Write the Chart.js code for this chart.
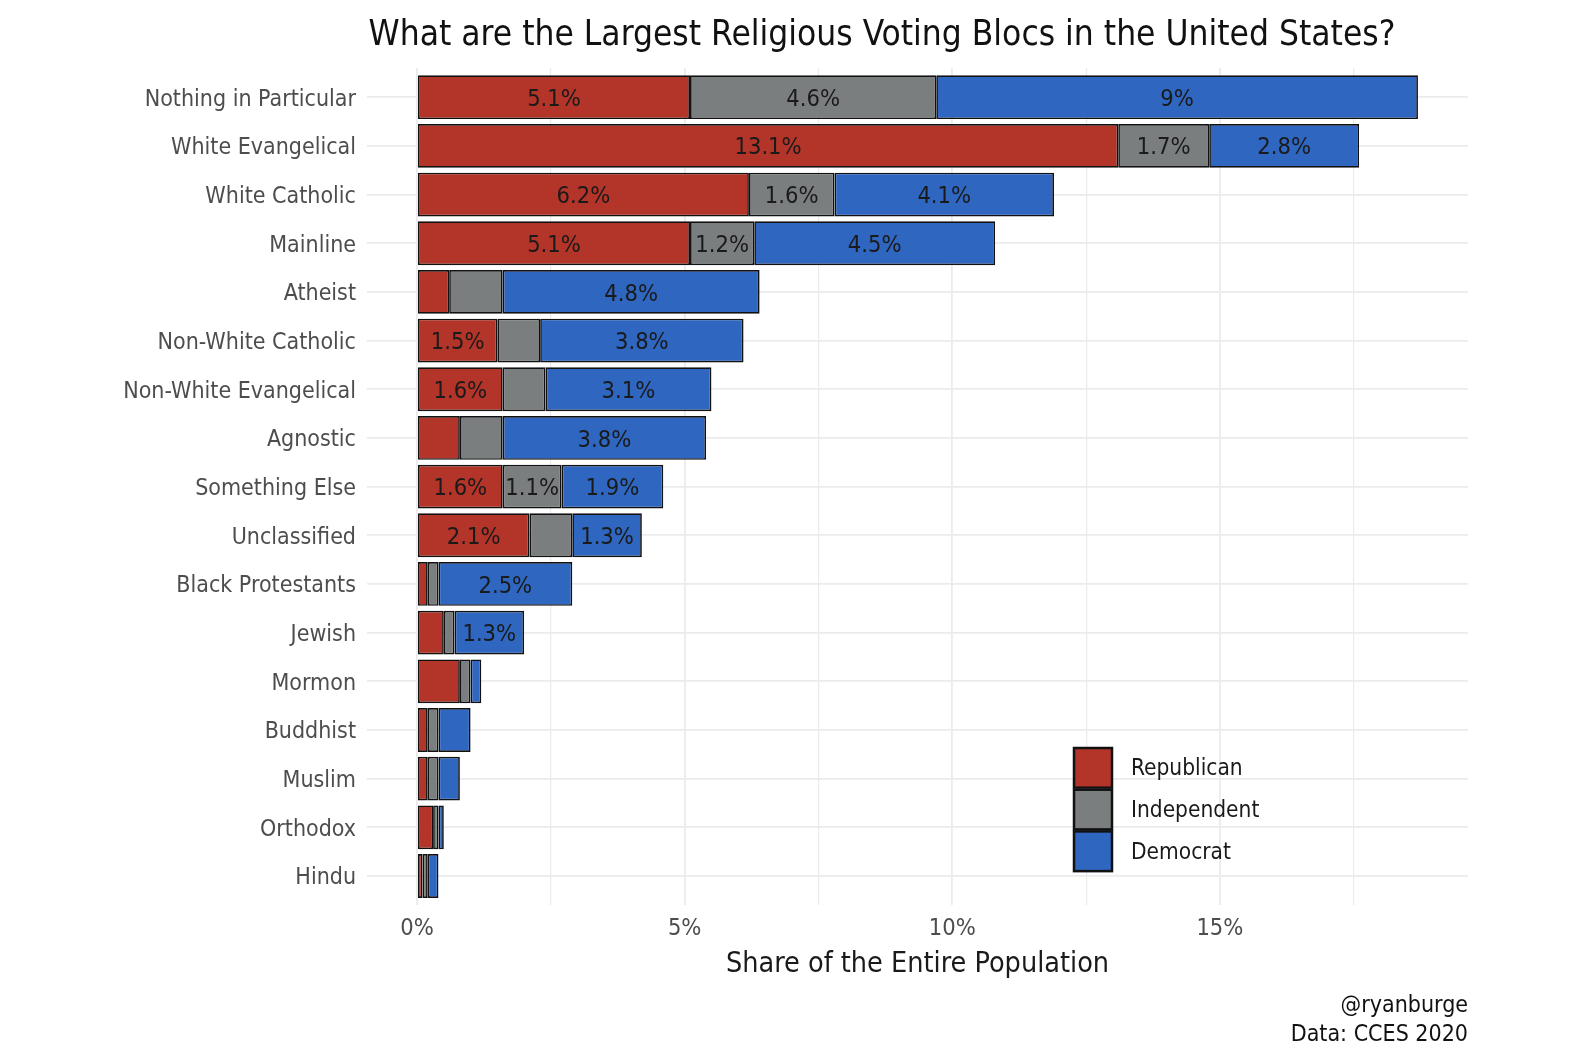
<!DOCTYPE html>
<html>
<head>
<meta charset="utf-8">
<script src="https://cdn.jsdelivr.net/npm/chart.js@4.4.1/dist/chart.umd.min.js"></script>
<style>
  body { margin: 0; background: #fff; }
  #wrap { width: 1588px; height: 1062px; }
</style>
</head>
<body>
<div id="wrap"><canvas id="myChart" width="1588" height="1062"></canvas></div>
<script>
// data (share of population, %)
const categories = ['Nothing in Particular', 'White Evangelical', 'White Catholic', 'Mainline', 'Atheist',
    'Non-White Catholic', 'Non-White Evangelical', 'Agnostic', 'Something Else', 'Unclassified',
    'Black Protestants', 'Jewish', 'Mormon', 'Buddhist', 'Muslim', 'Orthodox', 'Hindu'];
const republican = [5.1, 13.1, 6.2, 5.1, 0.6, 1.5, 1.6, 0.8, 1.6, 2.1, 0.2, 0.5, 0.8, 0.2, 0.2, 0.3, 0.1];
const independent = [4.6, 1.7, 1.6, 1.2, 1.0, 0.8, 0.8, 0.8, 1.1, 0.8, 0.2, 0.2, 0.2, 0.2, 0.2, 0.1, 0.1];
const democrat = [9.0, 2.8, 4.1, 4.5, 4.8, 3.8, 3.1, 3.8, 1.9, 1.3, 2.5, 1.3, 0.2, 0.6, 0.4, 0.1, 0.2];
const seriesNames = ['Republican', 'Independent', 'Democrat'];
const xTicks = [0, 5, 10, 15];

const TITLE = 'What are the Largest Religious Voting Blocs in the United States?';
const FONT = "'DejaVu Sans Condensed', 'Liberation Sans Narrow', 'Open Sans', sans-serif";
const colors = ['#b33429', '#7a7e7f', '#2f66c0'];

// ggplot style 5% expansion of the value axis
const totals = categories.map((c, i) => republican[i] + independent[i] + democrat[i]);
const maxTotal = Math.max(...totals);
const pad = maxTotal * 0.05;
const minorTicks = xTicks.map(t => t + 2.5);

const fmt = v => Number(v.toFixed(1)) + '%';

function makeSet(name, values, color) {
    return {
        label: name,
        data: values.map((v, i) => ({ x: v, y: i })),
        backgroundColor: color,
        borderColor: '#111',
        borderWidth: 1.7,
        borderSkipped: false,
        categoryPercentage: 1,
        barPercentage: 0.9
    };
}

// numbers in the segments (only the bigger ones)
const barLabels = {
    id: 'barLabels',
    afterDatasetsDraw(chart) {
        const ctx = chart.ctx;
        ctx.save();
        ctx.font = '23.5px ' + FONT;
        ctx.fillStyle = '#1a1a1a';
        ctx.textAlign = 'center';
        ctx.textBaseline = 'middle';
        chart.data.datasets.forEach((ds, di) => {
            const meta = chart.getDatasetMeta(di);
            meta.data.forEach((bar, i) => {
                const v = ds.data[i].x;
                if (v > 1) {
                    const p = bar.getCenterPoint();
                    ctx.fillText(fmt(v), p.x, p.y + 2.5);
                }
            });
        });
        ctx.restore();
    }
};

// legend sits inside the panel, bottom right; title centred like the original
const extras = {
    id: 'extras',
    afterDraw(chart) {
        const ctx = chart.ctx;
        const left = 1073, top = 747, w = 40, h = 41.7;
        ctx.save();
        chart.data.datasets.forEach((ds, i) => {
            const y = top + i * h;
            ctx.fillStyle = ds.backgroundColor;
            ctx.fillRect(left, y, w, h);
            ctx.strokeStyle = '#111';
            ctx.lineWidth = 2.5;
            ctx.strokeRect(left + 1, y + 1, w - 2, h - 2);
            ctx.fillStyle = '#1a1a1a';
            ctx.font = '22.5px ' + FONT;
            ctx.textAlign = 'left';
            ctx.textBaseline = 'middle';
            ctx.fillText(ds.label, left + 58, y + h / 2 + 1.5);
        });
        ctx.fillStyle = '#111';
        ctx.font = '35px ' + FONT;
        ctx.textAlign = 'center';
        ctx.textBaseline = 'middle';
        ctx.fillText(TITLE, 882, 36);
        ctx.restore();
    }
};

const ctx = document.getElementById('myChart');

new Chart(ctx, {
    type: 'bar',
    data: {
        datasets: [
            makeSet(seriesNames[0], republican, colors[0]),
            makeSet(seriesNames[1], independent, colors[1]),
            makeSet(seriesNames[2], democrat, colors[2])
        ]
    },
    options: {
        indexAxis: 'y',
        responsive: false,
        devicePixelRatio: 1,
        animation: false,
        layout: {
            padding: { left: 20, right: 120, top: 68, bottom: 13 }
        },
        scales: {
            x: {
                type: 'linear',
                stacked: true,
                min: -pad,
                max: maxTotal + pad,
                afterBuildTicks: s => {
                    s.ticks = xTicks.concat(minorTicks).sort((a, b) => a - b).map(v => ({ value: v }));
                },
                ticks: {
                    callback: v => (xTicks.includes(v) ? v + '%' : ''),
                    color: '#4d4d4d',
                    font: { family: FONT, size: 23.5 },
                    padding: 9.5,
                    maxRotation: 0,
                    autoSkip: false
                },
                grid: {
                    color: '#ebebeb',
                    lineWidth: c => (xTicks.includes(c.tick.value) ? 1.8 : 1.2),
                    drawTicks: false
                },
                border: { display: false },
                title: {
                    display: true,
                    text: 'Share of the Entire Population',
                    color: '#1a1a1a',
                    font: { family: FONT, size: 28.5 },
                    padding: { top: -5, bottom: 0 }
                }
            },
            y: {
                type: 'linear',
                stacked: true,
                reverse: true,
                offset: false,
                min: -0.6,
                max: categories.length - 0.4,
                afterBuildTicks: s => {
                    s.ticks = categories.map((c, i) => ({ value: i }));
                },
                afterFit: s => { s.width = 347; },
                ticks: {
                    callback: v => categories[v],
                    color: '#4d4d4d',
                    font: { family: FONT, size: 23 },
                    padding: 11,
                    labelOffset: 2.5,
                    autoSkip: false
                },
                grid: {
                    color: '#ebebeb',
                    lineWidth: 1.8,
                    drawTicks: false,
                    offset: false
                },
                border: { display: false }
            }
        },
        plugins: {
            legend: { display: false },
            tooltip: { enabled: false },
            title: { display: false },
            subtitle: {
                display: true,
                position: 'bottom',
                align: 'end',
                text: ['@ryanburge', 'Data: CCES 2020'],
                color: '#111',
                font: { family: FONT, size: 23, lineHeight: 1.25 },
                padding: { top: 9.9, bottom: 0 }
            }
        }
    },
    plugins: [barLabels, extras]
});
</script>
</body>
</html>
